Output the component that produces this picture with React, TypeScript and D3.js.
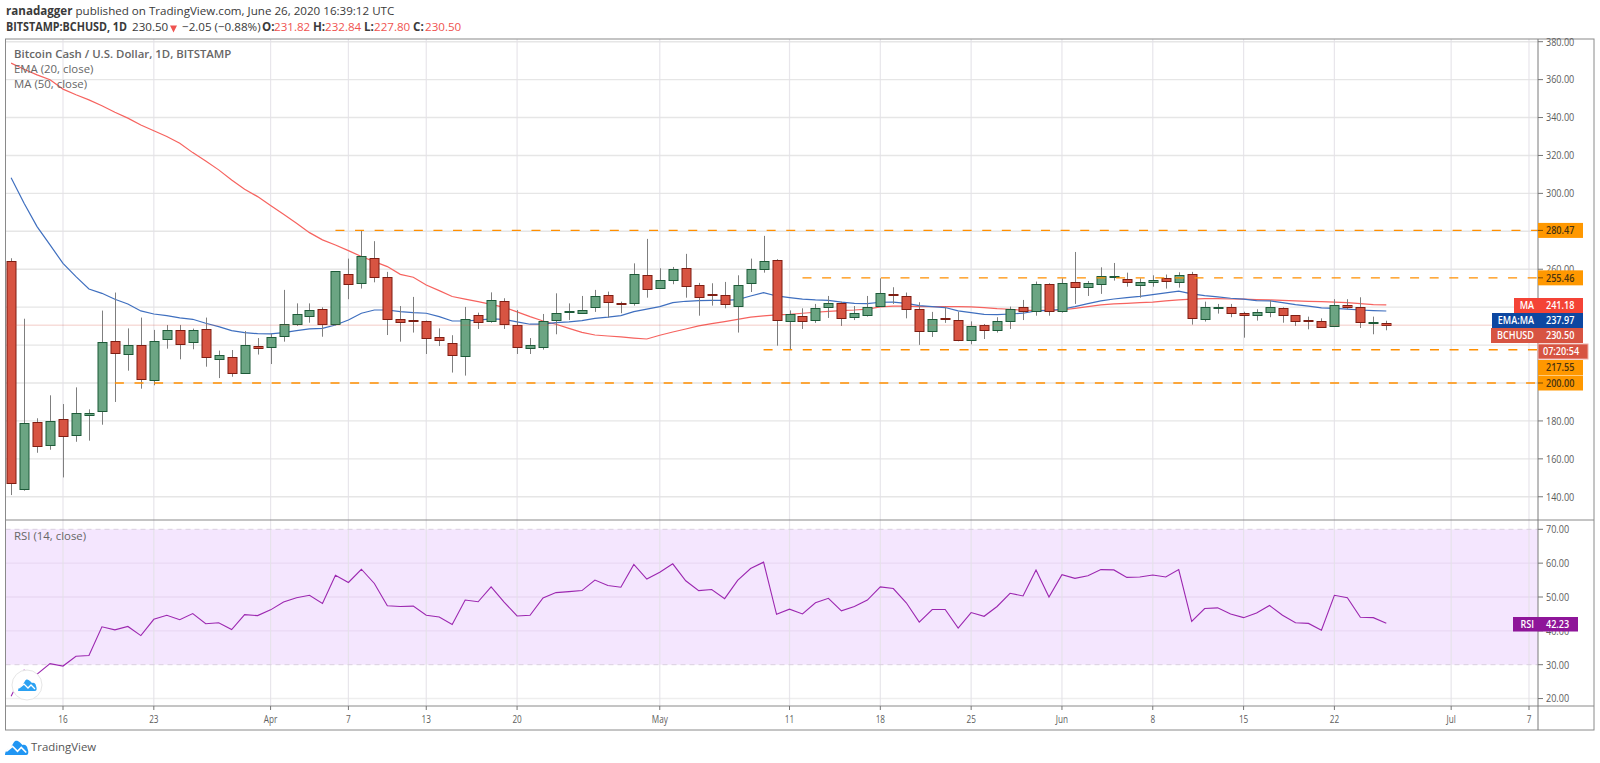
import React from 'react';
import * as d3 from 'd3';

// daily candles, 12 Mar - 26 Jun 2020
const opens = [
  264.6,143.9,179.4,167.3,181.0,172.6,182.9,185.4,222.3,215.1,220.1,201.4,223.0,227.8,221.8,228.7,212.7,213.9,205.1,219.7,
  218.8,224.6,231.0,235.4,239.0,231.0,257.3,252.8,265.8,255.9,233.6,233.2,232.9,224.4,221.1,214.1,235.7,232.9,243.3,230.4,218.6,219.2,233.4,237.6,237.1,240.3,246.6,242.4,242.0,256.8,
  250.0,254.2,260.9,251.7,246.8,246.6,240.5,252.9,260.3,264.9,232.5,235.2,233.4,239.9,242.4,234.8,236.1,240.5,247.0,246.1,239.0,227.3,234.3,233.2,222.5,230.4,227.8,232.5,239.9,237.8,252.2,
  238.2,253.3,250.5,252.2,256.1,254.7,251.9,253.3,255.4,253.3,257.5,233.9,239.4,240.3,236.8,235.7,237.3,239.4,235.7,233.1,232.5,230.3,241.0,239.9,231.8,231.82,
];
const highs = [
  265.8,233.9,181.4,193.5,188.9,197.7,186.1,238.2,247.7,228.8,234.5,228.0,230.6,230.6,228.7,234.5,217.1,217.4,227.4,223.7,
  225.9,249.1,242.0,242.0,239.9,258.9,265.6,280.4,274.8,258.6,240.6,245.4,232.9,228.8,225.2,240.1,237.1,247.8,244.7,238.5,223.7,236.4,247.3,242.0,245.9,249.1,248.2,242.9,263.1,276.0,
  260.5,261.2,268.1,252.8,252.6,253.3,256.8,265.6,277.6,265.3,238.3,239.4,241.7,245.9,242.9,240.6,245.9,255.2,250.5,247.7,242.6,237.5,240.3,237.6,232.5,231.1,234.7,240.3,243.8,253.5,252.6,
  255.2,269.1,253.8,261.0,263.3,258.2,255.2,256.8,257.2,258.4,258.6,242.9,241.7,241.7,237.6,238.9,243.8,239.9,235.7,235.0,234.1,244.2,244.2,245.2,235.0,232.84,
];
const lows = [
  140.9,143.2,163.2,164.8,150.2,169.0,169.6,178.0,190.0,206.5,197.0,198.8,218.1,212.5,217.8,208.6,202.6,203.3,204.9,215.0,
  210.0,221.8,230.1,231.8,224.4,230.4,244.2,249.8,253.1,225.3,221.8,226.6,215.3,219.5,205.5,203.9,228.5,231.8,228.5,215.3,215.3,217.6,225.7,233.2,237.1,237.5,234.5,236.8,240.8,245.0,
  249.8,252.1,245.0,235.5,240.8,239.4,226.6,248.0,258.2,219.7,217.6,228.5,231.7,234.3,230.1,233.2,235.0,240.3,241.7,234.1,220.1,224.3,231.7,222.0,220.4,223.2,226.6,228.5,233.2,235.5,235.5,
  237.1,241.7,245.9,247.0,254.0,250.8,245.0,250.8,249.8,250.3,230.8,232.4,236.6,234.7,223.9,232.9,234.7,231.8,230.1,228.3,229.2,230.1,238.9,229.0,225.7,227.80,
];
const closes = [
  147.4,179.1,166.9,180.1,172.0,184.0,184.3,221.5,215.7,219.9,202.3,222.0,227.8,220.8,227.8,213.5,214.6,205.1,219.9,218.3,
  224.1,231.3,236.2,238.5,231.1,258.9,252.4,267.2,255.8,233.6,232.4,232.9,223.9,222.5,215.0,233.8,232.4,243.8,231.3,219.2,219.9,232.5,236.8,237.8,238.3,245.7,242.9,241.9,257.3,249.4,
  254.2,260.3,251.4,245.6,246.6,241.5,251.7,260.3,264.6,233.1,236.2,232.9,239.4,242.0,234.5,236.8,239.9,247.5,246.6,239.2,227.6,233.8,233.9,222.5,229.9,227.8,232.5,239.0,238.2,252.2,238.2,
  252.8,250.8,252.8,256.5,256.3,253.3,253.1,254.2,253.6,257.0,234.5,239.9,240.3,237.1,235.7,237.3,239.9,235.7,232.5,232.5,229.7,241.0,239.9,232.4,232.0,230.50,
];
const ema20 = [
  308.2,294.8,282.5,272.8,263.1,256.1,249.6,247.3,244.2,241.7,238.0,236.4,235.5,234.3,233.6,231.5,229.7,227.6,226.6,226.0,
  225.9,226.6,227.6,228.5,228.8,230.6,233.2,236.8,238.5,238.5,237.6,237.1,236.8,235.0,232.7,232.7,233.2,233.8,233.6,232.2,231.0,231.1,231.8,232.2,232.9,234.1,234.7,235.5,237.6,239.0,
  240.3,242.4,243.1,243.4,243.6,243.6,244.0,245.9,247.7,245.9,245.0,244.2,243.8,243.6,242.7,242.0,241.9,242.6,242.7,242.0,240.8,240.3,239.8,238.0,237.1,236.2,236.1,236.4,236.8,238.0,238.3,
  238.9,240.3,241.9,243.3,244.3,245.0,245.7,246.6,247.5,248.5,247.0,246.1,245.4,244.7,244.2,243.4,243.3,242.4,241.3,240.5,239.6,239.4,239.0,238.5,238.2,237.97,
];
const ma50 = [
  368.7,365.5,362.5,359.9,355.0,352.0,349.3,346.2,342.8,339.7,336.1,333.0,330.0,326.5,321.5,317.1,312.4,307.1,302.2,298.3,
  293.6,289.0,284.3,279.3,275.5,272.8,269.8,266.7,264.0,261.4,257.3,255.8,251.7,248.7,245.6,244.2,242.9,241.5,239.9,237.5,235.0,232.7,231.0,228.8,226.7,225.3,224.8,224.3,223.7,223.2,
  225.2,226.9,228.5,230.1,231.3,232.4,233.6,234.7,235.4,235.9,236.2,236.8,237.3,237.8,238.2,238.5,239.0,240.1,240.5,240.5,240.3,240.3,240.3,240.3,240.1,239.8,239.2,238.9,238.3,238.3,238.3,
  238.5,239.4,240.3,241.2,241.7,242.0,242.4,242.7,243.3,243.8,244.2,244.5,244.5,244.3,244.2,244.0,243.8,243.6,243.3,243.1,242.9,242.7,242.4,241.9,241.3,241.18,
];
const rsi14 = [
  20.7,28.4,27.2,30.3,29.6,32.5,32.7,41.2,40.3,41.3,38.6,43.4,44.6,43.3,45.1,42.1,42.4,40.4,44.8,44.5,
  46.2,48.5,49.8,50.5,48.1,56.4,54.3,58.2,54.0,47.4,47.2,47.3,44.6,44.1,41.9,49.1,48.6,53.0,48.5,44.4,44.6,49.7,51.3,51.6,51.9,55.0,53.4,52.9,59.6,55.3,
  57.3,59.8,54.8,51.9,52.2,49.5,54.9,58.4,60.3,44.9,46.4,45.0,48.3,49.6,45.9,47.2,49.1,53.0,52.5,48.3,42.6,46.3,46.3,40.8,45.4,44.3,47.2,51.1,50.3,58.0,50.0,
  56.6,55.5,56.3,58.1,58.0,55.8,55.9,56.5,55.9,58.1,42.8,46.6,46.8,45.0,43.9,45.3,47.5,44.6,42.4,42.2,40.2,50.5,49.8,44.0,43.9,42.23,
];

const priceTicks = [140, 160, 180, 200, 220, 240, 260, 280, 300, 320, 340, 360, 380];
// these tick labels sit fully under a price tag, so the chart does not show them
const coveredPriceLabels = [200, 220, 240, 280];
const rsiTicks = [20, 30, 40, 50, 60, 70];
const timeTicks: [Date, string][] = [
  [new Date(Date.UTC(2020, 2, 16)), '16'],
  [new Date(Date.UTC(2020, 2, 23)), '23'],
  [new Date(Date.UTC(2020, 3, 1)), 'Apr'],
  [new Date(Date.UTC(2020, 3, 7)), '7'],
  [new Date(Date.UTC(2020, 3, 13)), '13'],
  [new Date(Date.UTC(2020, 3, 20)), '20'],
  [new Date(Date.UTC(2020, 4, 1)), 'May'],
  [new Date(Date.UTC(2020, 4, 11)), '11'],
  [new Date(Date.UTC(2020, 4, 18)), '18'],
  [new Date(Date.UTC(2020, 4, 25)), '25'],
  [new Date(Date.UTC(2020, 5, 1)), 'Jun'],
  [new Date(Date.UTC(2020, 5, 8)), '8'],
  [new Date(Date.UTC(2020, 5, 15)), '15'],
  [new Date(Date.UTC(2020, 5, 22)), '22'],
  [new Date(Date.UTC(2020, 6, 1)), 'Jul'],
  [new Date(Date.UTC(2020, 6, 7)), '7'],
];
// horizontal levels drawn by the author: value and the day each one starts
const levels: [number, Date][] = [
  [280.47, new Date(Date.UTC(2020, 3, 6))],
  [255.46, new Date(Date.UTC(2020, 4, 12))],
  [217.55, new Date(Date.UTC(2020, 4, 9))],
  [200.0, new Date(Date.UTC(2020, 2, 20))],
];
const lastPrice = 230.5;

const days = d3.utcDay.range(new Date(Date.UTC(2020, 2, 12)), new Date(Date.UTC(2020, 5, 27)));

const font = '"Open Sans", sans-serif';
const gridColor = '#e6e6e6';
const axisText = '#5d5d5d';
const upFill = '#6ba583';
const downFill = '#d75442';

// the screenshot is squeezed sideways, so its labels are narrower than the font
function Squeezed({ x, y, k, anchor, fill, children }: any) {
  return (
    <text transform={`translate(${x},${y}) scale(${k},1)`} textAnchor={anchor} fill={fill}>
      {children}
    </text>
  );
}

export default function App() {
  const left = 5.5;
  const right = 1594;
  const axisX = 1538;

  const x = d3.scaleUtc()
    .domain([new Date(Date.UTC(2020, 2, 16)), new Date(Date.UTC(2020, 6, 7))])
    .range([63, 1529]);
  const y = d3.scaleLinear().domain([200, 380]).range([383, 41.7]);
  const yRsi = d3.scaleLinear().domain([30, 70]).range([664.7, 529.3]);

  const lineOf = (scale: d3.ScaleLinear<number, number>) =>
    d3.line<number>()
      .x((_, i) => x(days[i]))
      .y(d => scale(d));

  return (
    <svg
      width={1600}
      height={763}
      style={{ position: 'absolute', left: 0, top: 0, display: 'block', background: '#fff' }}
      fontFamily={font}
    >
      {/* header */}
      <text x={6} y={15} fontSize={11.6} fill="#3a3a3a">
        <tspan fontWeight={700}>ranadagger</tspan> published on TradingView.com, June 26, 2020 16:39:12 UTC
      </text>
      <g fontSize={11.6} fill="#3a3a3a">
        <text x={6} y={31} fontWeight={700} textLength={121} lengthAdjust="spacingAndGlyphs">BITSTAMP:BCHUSD, 1D</text>
        <text x={132} y={31}>230.50</text>
        <path d="M170 25.5h7l-3.5 7z" fill="#ef5350" />
        <text x={182} y={31}>−2.05 (−0.88%)</text>
        <text x={262} y={31} fontWeight={700}>O:</text>
        <text x={274} y={31} fill="#ef5350">231.82</text>
        <text x={313} y={31} fontWeight={700}>H:</text>
        <text x={325} y={31} fill="#ef5350">232.84</text>
        <text x={364} y={31} fontWeight={700}>L:</text>
        <text x={374} y={31} fill="#ef5350">227.80</text>
        <text x={413} y={31} fontWeight={700}>C:</text>
        <text x={425} y={31} fill="#ef5350">230.50</text>
      </g>

      {/* grid */}
      <rect x={left} y={yRsi(70)} width={axisX - left} height={yRsi(30) - yRsi(70)} fill="#f4e6fe" />
      {priceTicks.map(t => (
        <line key={t} x1={left} x2={axisX} y1={y(t)} y2={y(t)} stroke={gridColor} strokeWidth={1.4} />
      ))}
      {rsiTicks.map(t => (
        <line key={t} x1={left} x2={axisX} y1={yRsi(t)} y2={yRsi(t)} stroke={t === 70 || t === 30 ? 'none' : t === 20 ? '#eeeeee' : '#ead9f3'} strokeWidth={1.4} />
      ))}
      {timeTicks.map(([d, label]) => (
        <line key={label + d.getTime()} x1={x(d)} x2={x(d)} y1={39} y2={706} stroke="#e4e2e8" strokeWidth={1.2} opacity={0.85} />
      ))}
      <line x1={left} x2={axisX} y1={yRsi(70)} y2={yRsi(70)} stroke="#d9cfdf" strokeDasharray="5 4" />
      <line x1={left} x2={axisX} y1={yRsi(30)} y2={yRsi(30)} stroke="#d9cfdf" strokeDasharray="5 4" />

      {/* moving averages */}
      <path d={lineOf(y)(ma50) ?? ''} fill="none" stroke="#f6635f" strokeWidth={1.2} />
      <path d={lineOf(y)(ema20) ?? ''} fill="none" stroke="#3f6fbf" strokeWidth={1.2} />

      {/* candles */}
      {days.map((d, i) => {
        const up = closes[i] >= opens[i];
        const cx = Math.round(x(d));
        const top = Math.round(y(Math.max(opens[i], closes[i])));
        const bot = Math.round(y(Math.min(opens[i], closes[i])));
        return (
          <g key={i}>
            <line x1={cx + 0.5} x2={cx + 0.5} y1={y(highs[i])} y2={y(lows[i])} stroke="#7f7f7f" />
            <rect
              x={cx - 4}
              y={top + 0.5}
              width={9}
              height={Math.max(bot - top, 1)}
              fill={up ? upFill : downFill}
              stroke={up ? '#1d5a38' : '#7e1d12'}
              strokeWidth={1}
            />
          </g>
        );
      })}

      {/* last price and levels */}
      <line x1={left} x2={axisX} y1={y(lastPrice)} y2={y(lastPrice)} stroke="#d75442" strokeOpacity={0.6} strokeDasharray="1 1" />
      {levels.map(([v, d]) => (
        <line key={v} x1={x(d)} x2={axisX} y1={y(v)} y2={y(v)} stroke="#ff8f00" strokeWidth={1.4} strokeDasharray="9 10.6" />
      ))}

      {/* rsi */}
      <path d={lineOf(yRsi)(rsi14) ?? ''} fill="none" stroke="#9c27b0" strokeWidth={1.1} />

      {/* legends */}
      <g fontSize={11.4} fill="#666">
        <text x={14} y={58} fontWeight={600}>Bitcoin Cash / U.S. Dollar, 1D, BITSTAMP</text>
        <text x={14} y={73}>EMA (20, close)</text>
        <text x={14} y={88}>MA (50, close)</text>
        <text x={14} y={540}>RSI (14, close)</text>
      </g>

      {/* frame */}
      <rect x={left} y={39} width={right - left} height={691} fill="none" stroke="#8a8a8a" strokeWidth={1} />
      <line x1={left} x2={right} y1={520} y2={520} stroke="#8a8a8a" />
      <line x1={left} x2={right} y1={706} y2={706} stroke="#8a8a8a" />
      <line x1={axisX} x2={axisX} y1={39} y2={730} stroke="#7a7a7a" />

      {/* axis labels */}
      <g fontSize={10.8} fill={axisText}>
        {priceTicks.map(t => (
          <g key={t}>
            <line x1={axisX} x2={axisX + 5} y1={y(t)} y2={y(t)} stroke="#777" />
            {!coveredPriceLabels.includes(t) && (
              <Squeezed x={axisX + 8} y={y(t) + 3.8} k={0.84}>{t.toFixed(2)}</Squeezed>
            )}
          </g>
        ))}
        {rsiTicks.map(t => (
          <g key={t}>
            <line x1={axisX} x2={axisX + 5} y1={yRsi(t)} y2={yRsi(t)} stroke="#777" />
            <Squeezed x={axisX + 8} y={yRsi(t) + 3.8} k={0.84}>{t.toFixed(2)}</Squeezed>
          </g>
        ))}
        {timeTicks.map(([d, label]) => (
          <g key={label + d.getTime()}>
            <line x1={x(d)} x2={x(d)} y1={706} y2={710} stroke="#777" />
            <Squeezed x={x(d)} y={723} k={0.76} anchor="middle">{label}</Squeezed>
          </g>
        ))}
      </g>

      {/* price tags */}
      <g fontSize={10.8} fontWeight={600}>
        {levels.map(([v]) => {
          // the 217.55 tag is pushed down below the countdown box
          const tagY = v === 217.55 ? 367.5 : y(v);
          return (
            <g key={v}>
              <rect x={axisX} y={tagY - 7.5} width={45} height={15} fill="#ff9800" />
              {v !== 217.55 && <line x1={axisX} x2={axisX + 5} y1={tagY} y2={tagY} stroke="#7a4a00" />}
              <Squeezed x={axisX + 8} y={tagY + 3.8} k={0.84} fill="#4a3410">{v.toFixed(2)}</Squeezed>
            </g>
          );
        })}
        <rect x={1514} y={298} width={69} height={15} fill="#f44336" />
        <Squeezed x={1534} y={309.3} k={0.84} anchor="end" fill="#fff">MA</Squeezed>
        <Squeezed x={axisX + 8} y={309.3} k={0.84} fill="#fff">241.18</Squeezed>
        <rect x={1492} y={313} width={91} height={15} fill="#0d47a1" />
        <Squeezed x={1534} y={324.3} k={0.84} anchor="end" fill="#fff">EMA:MA</Squeezed>
        <Squeezed x={axisX + 8} y={324.3} k={0.84} fill="#fff">237.97</Squeezed>
        <rect x={1491} y={328} width={92} height={15} fill="#d75442" />
        <Squeezed x={1534} y={339.3} k={0.84} anchor="end" fill="#fff">BCHUSD</Squeezed>
        <Squeezed x={axisX + 8} y={339.3} k={0.84} fill="#fff">230.50</Squeezed>
        <rect x={axisX} y={344} width={50} height={15} fill="#d75442" stroke="#eeb0a8" />
        <Squeezed x={axisX + 5} y={355.3} k={0.84} fill="#fff">07:20:54</Squeezed>
        <rect x={1513} y={617} width={65} height={14.5} fill="#8e1599" />
        <Squeezed x={1534} y={628} k={0.84} anchor="end" fill="#fff">RSI</Squeezed>
        <Squeezed x={axisX + 8} y={628} k={0.84} fill="#fff">42.23</Squeezed>
      </g>

      {/* watermark and logo */}
      <circle cx={27} cy={685} r={15} fill="#fff" stroke="#e6e6e6" />
      <g transform="translate(18,679)">
        <path d="M0 12C0 9 2 7 4 7L7 2C8 0 10 0 12 2L14 4C16 3 18 5 18 7 19 9 19 12 17 12Z" fill="#2aa1f2" />
        <path d="M1 9 6 5 10 9 13 6 17 10" fill="none" stroke="#fff" strokeWidth={1.3} />
      </g>
      <g transform="translate(5,740) scale(1.25)">
        <path d="M0 12C0 9 2 7 4 7L7 2C8 0 10 0 12 2L14 4C16 3 18 5 18 7 19 9 19 12 17 12Z" fill="#2196f3" />
        <path d="M1 9 6 5 10 9 13 6 17 10" fill="none" stroke="#fff" strokeWidth={1.3} />
      </g>
      <text x={31} y={751} fontSize={11.4} fill="#555">TradingView</text>
    </svg>
  );
}
